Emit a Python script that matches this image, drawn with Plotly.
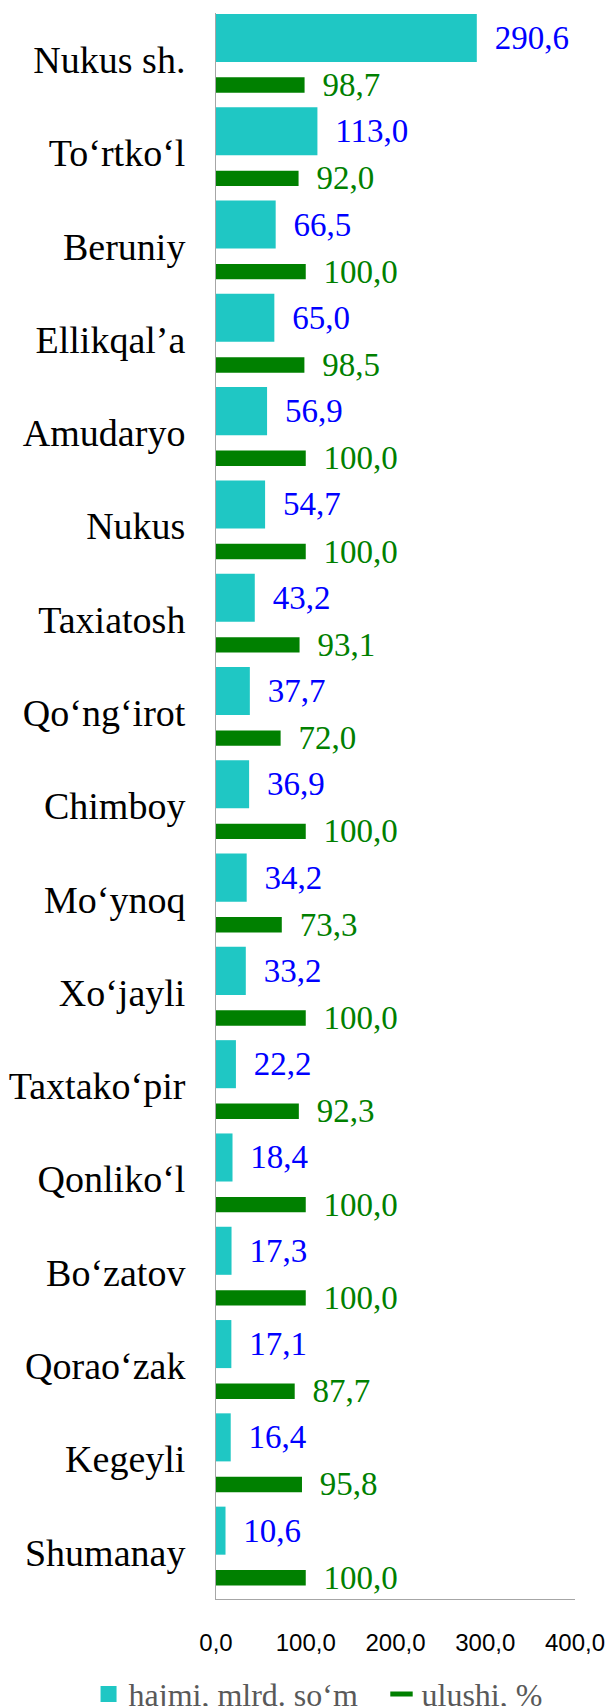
import plotly.graph_objects as go

categories = ["Nukus sh.", "To‘rtko‘l", "Beruniy", "Ellikqal’a", "Amudaryo", "Nukus",
              "Taxiatosh", "Qo‘ng‘irot", "Chimboy", "Mo‘ynoq", "Xo‘jayli", "Taxtako‘pir",
              "Qonliko‘l", "Bo‘zatov", "Qorao‘zak", "Kegeyli", "Shumanay"]
hajmi = [290.6, 113.0, 66.5, 65.0, 56.9, 54.7, 43.2, 37.7, 36.9, 34.2, 33.2, 22.2,
         18.4, 17.3, 17.1, 16.4, 10.6]
ulushi = [98.7, 92.0, 100.0, 98.5, 100.0, 100.0, 93.1, 72.0, 100.0, 73.3, 100.0, 92.3,
          100.0, 100.0, 87.7, 95.8, 100.0]
x_ticks = [0, 100, 200, 300, 400]
x_ticklabels = ["0,0", "100,0", "200,0", "300,0", "400,0"]
series_names = ["hajmi, mlrd. so‘m", "ulushi, %"]

CYAN = "#1FC7C4"
GREEN = "#008000"
GAP = "\u00a0\u2009"

fig = go.Figure()
fig.add_trace(go.Bar(
    y=categories, x=hajmi, orientation="h", name=series_names[0],
    marker=dict(color=CYAN, line=dict(width=0)),
    width=0.515, offset=-0.49,
    texttemplate=GAP + "%{x:.1f}", textposition="outside",
    textfont=dict(family="Liberation Serif", size=33, color="#0000FF"),
    constraintext="none", cliponaxis=False, showlegend=False,
))
fig.add_trace(go.Bar(
    y=categories, x=ulushi, orientation="h", name=series_names[1],
    marker=dict(color=GREEN, line=dict(width=0)),
    width=0.165, offset=0.19,
    texttemplate=GAP + "%{x:.1f}", textposition="outside",
    textfont=dict(family="Liberation Serif", size=33, color=GREEN),
    constraintext="none", cliponaxis=False, showlegend=False,
))
# legend entries
fig.add_trace(go.Scatter(
    x=[None], y=[None], mode="markers", name=series_names[0], legend="legend",
    marker=dict(symbol="square", size=16, color=CYAN),
))
fig.add_trace(go.Scatter(
    x=[None], y=[None], mode="markers", name=series_names[1], legend="legend2",
    marker=dict(symbol="line-ew", size=16, line=dict(width=5, color=GREEN)),
))

legend_font = dict(family="Liberation Serif", size=32, color="#595959")
fig.update_layout(
    width=607, height=1706,
    margin=dict(l=216, r=32, t=13, b=107, autoexpand=False),
    paper_bgcolor="white", plot_bgcolor="white",
    barmode="overlay",
    separators=", ",
    showlegend=True,
    legend=dict(orientation="h", x=-0.355, xanchor="left", y=-0.060, yanchor="middle",
                font=legend_font, itemsizing="trace", bgcolor="rgba(0,0,0,0)"),
    legend2=dict(orientation="h", x=0.461, xanchor="left", y=-0.060, yanchor="middle",
                 font=legend_font, itemsizing="trace", bgcolor="rgba(0,0,0,0)"),
    xaxis=dict(range=[0, 400], tickvals=x_ticks, ticktext=x_ticklabels,
               showgrid=False, zeroline=False, showline=True, linecolor="#A6A6A6",
               linewidth=1, ticks="", ticklabelstandoff=22,
               tickfont=dict(family="Liberation Sans", size=24, color="#000000")),
    yaxis=dict(categoryorder="array", categoryarray=categories, range=[16.5, -0.5],
               showgrid=False, zeroline=False, showline=True, linecolor="#A6A6A6",
               linewidth=1, ticks="", ticklabelstandoff=22,
               tickfont=dict(family="Liberation Serif", size=38, color="#000000")),
)

fig.write_html("out.html", post_script="document.body.style.margin='0';",
               config={"displayModeBar": False})
